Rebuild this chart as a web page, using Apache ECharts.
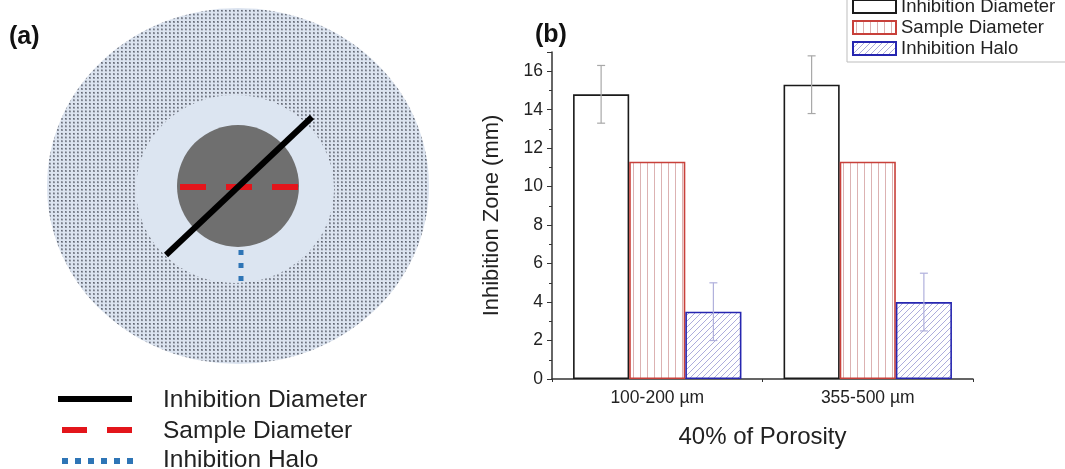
<!DOCTYPE html>
<html><head><meta charset="utf-8">
<script src="https://cdn.jsdelivr.net/npm/echarts@6/dist/echarts.min.js"></script>
<style>html,body{margin:0;padding:0;background:#fff}#c{width:1065px;height:469px}</style>
</head><body><div id="c"></div>
<script>
// ---- data ----
const categories = ['100-200 µm', '355-500 µm'];
const seriesNames = ['Inhibition Diameter', 'Sample Diameter', 'Inhibition Halo'];
const inhibitionDiameter = [14.8, 15.3];
const inhibitionDiameterErr = [1.5, 1.5];
const sampleDiameter = [11.3, 11.3];
const sampleDiameterErr = [0, 0];
const inhibitionHalo = [3.5, 4.0];
const inhibitionHaloErr = [1.5, 1.5];
const yMin = 0, yMax = 17, yInterval = 2;
const xAxisTitle = '40% of Porosity';
const yAxisTitle = 'Inhibition Zone (mm)';
const schematicLabels = ['Inhibition Diameter', 'Sample Diameter', 'Inhibition Halo'];

// ---- patterns ----
function mkCanvas(w, h, draw) { const c = document.createElement('canvas'); c.width = w; c.height = h; draw(c.getContext('2d')); return c; }
const vertPattern = mkCanvas(7, 8, g => { g.fillStyle = '#fff'; g.fillRect(0,0,7,8); g.fillStyle = '#dcb2b2'; g.fillRect(3,0,1,8); });
const diagPattern = mkCanvas(6, 6, g => {
  g.fillStyle = '#fff'; g.fillRect(0,0,6,6);
  g.strokeStyle = '#a4a4d8'; g.lineWidth = 0.9;
  g.beginPath(); g.moveTo(-1,7); g.lineTo(7,-1); g.moveTo(-1,1); g.lineTo(1,-1); g.moveTo(5,7); g.lineTo(7,5); g.stroke();
});
const dotPattern = mkCanvas(4, 4, g => { g.fillStyle = '#dce4f0'; g.fillRect(0,0,4,4); g.fillStyle = '#8a909c'; g.fillRect(1,1,2,2); g.fillStyle = '#5c626e'; g.fillRect(1,1,1,1); });

const values = [inhibitionDiameter, sampleDiameter, inhibitionHalo];
const errs = [inhibitionDiameterErr, sampleDiameterErr, inhibitionHaloErr];
const fills = ['#ffffff', { image: vertPattern, repeat: 'repeat' }, { image: diagPattern, repeat: 'repeat' }];
const borders = ['#1a1a1a', '#c8403a', '#2626b0'];
const errColors = ['#a8a8a8', '#d8a0a0', '#b0b0dc'];

const errData = [];
values.forEach((arr, si) => arr.forEach((v, ci) => { if (errs[si][ci] > 0) errData.push([ci, v - errs[si][ci], v + errs[si][ci], si]); }));

const font = 'Arial, "Liberation Sans", sans-serif';

const barSeries = seriesNames.map((n, i) => ({
  name: n, type: 'bar', data: values[i], barGap: '0%', barCategoryGap: '20%',
  itemStyle: { color: fills[i], borderColor: borders[i], borderWidth: 1.6 },
  z: 2
}));

const errSeries = {
  type: 'custom', name: 'err', data: errData, z: 5,
  renderItem(params, api) {
    const ci = api.value(0), lo = api.value(1), hi = api.value(2), si = api.value(3);
    const band = api.size([1, 0])[0];
    const bw = band * 0.8 / 3;
    const top = api.coord([ci, hi]), bot = api.coord([ci, lo]);
    const x = top[0] + (si - 1) * bw;
    const st = { stroke: errColors[si], lineWidth: 1.2 };
    return { type: 'group', children: [
      { type: 'line', shape: { x1: x, y1: top[1], x2: x, y2: bot[1] }, style: st },
      { type: 'line', shape: { x1: x - 4, y1: top[1], x2: x + 4, y2: top[1] }, style: st },
      { type: 'line', shape: { x1: x - 4, y1: bot[1], x2: x + 4, y2: bot[1] }, style: st }
    ]};
  }
};

// ---- schematic (panel a) ----
const graphic = [
  { type: 'circle', shape: { cx: 238, cy: 186, r: 191 }, scaleY: 178/191, originX: 238, originY: 186,
    style: { fill: { image: dotPattern, repeat: 'repeat' } }, z: 0 },
  { type: 'circle', shape: { cx: 235, cy: 189, r: 99 }, scaleY: 0.95, originX: 235, originY: 189, style: { fill: '#dce5f1' }, z: 1 },
  { type: 'circle', shape: { cx: 238, cy: 186, r: 61 }, style: { fill: '#6f6f6f' }, z: 2 },
  { type: 'line', shape: { x1: 180, y1: 187, x2: 298, y2: 187 }, style: { stroke: '#e3151b', lineWidth: 6, lineDash: [26, 20] }, z: 3 },
  { type: 'line', shape: { x1: 166, y1: 255, x2: 312, y2: 117 }, style: { stroke: '#000', lineWidth: 6 }, z: 4 },
  { type: 'line', shape: { x1: 241, y1: 250, x2: 241, y2: 284 }, style: { stroke: '#2e75b6', lineWidth: 5, lineDash: [5, 8] }, z: 3 },
  { type: 'line', shape: { x1: 58, y1: 399, x2: 132, y2: 399 }, style: { stroke: '#000', lineWidth: 6 }, z: 3 },
  { type: 'line', shape: { x1: 62, y1: 430, x2: 132, y2: 430 }, style: { stroke: '#e3151b', lineWidth: 6, lineDash: [25, 20] }, z: 3 },
  { type: 'line', shape: { x1: 62, y1: 461, x2: 133, y2: 461 }, style: { stroke: '#2e75b6', lineWidth: 6, lineDash: [6, 7] }, z: 3 },
  { type: 'text', x: 163, y: 400, style: { text: schematicLabels[0], font: '24.5px ' + font, fill: '#222', verticalAlign: 'middle' }, z: 3 },
  { type: 'text', x: 163, y: 431, style: { text: schematicLabels[1], font: '24.5px ' + font, fill: '#222', verticalAlign: 'middle' }, z: 3 },
  { type: 'text', x: 163, y: 460, style: { text: schematicLabels[2], font: '24.5px ' + font, fill: '#222', verticalAlign: 'middle' }, z: 3 },
  { type: 'text', x: 9, y: 37, style: { text: '(a)', font: 'bold 25px ' + font, fill: '#111', verticalAlign: 'middle' }, z: 3 },
  { type: 'text', x: 535, y: 35, style: { text: '(b)', font: 'bold 25px ' + font, fill: '#111', verticalAlign: 'middle' }, z: 3 }
];

const chart = echarts.init(document.getElementById('c'), null, { renderer: 'canvas' });
chart.setOption({
  animation: false,
  backgroundColor: '#fff',
  textStyle: { fontFamily: font },
  graphic: graphic,
  grid: { left: 552, right: 92, top: 52, bottom: 90 },
  legend: {
    data: seriesNames, orient: 'vertical', left: 847, top: -8,
    itemWidth: 43, itemHeight: 13, itemGap: 2, icon: 'rect',
    padding: [5, 30, 4, 5], borderColor: '#bdbdbd', borderWidth: 1, backgroundColor: '#fff',
    textStyle: { fontSize: 18.5, lineHeight: 16, color: '#222', fontFamily: font }
  },
  xAxis: [{
    type: 'category', data: categories,
    axisLine: { lineStyle: { color: '#333', width: 1.5 } },
    axisTick: { alignWithLabel: true, length: 5, lineStyle: { color: '#333' } },
    axisLabel: { fontSize: 17.5, color: '#222', margin: 10 },
    name: xAxisTitle, nameLocation: 'middle', nameGap: 46,
    nameTextStyle: { fontSize: 24, color: '#222' }
  }, {
    type: 'value', min: 0, max: categories.length, interval: 1, position: 'bottom',
    axisLine: { show: false }, axisLabel: { show: false }, splitLine: { show: false },
    axisTick: { show: true, length: 3, lineStyle: { color: '#333' } }
  }],
  yAxis: {
    type: 'value', min: yMin, max: yMax, interval: yInterval,
    axisLine: { show: true, lineStyle: { color: '#333', width: 1.5 } },
    axisTick: { show: true, length: 5, lineStyle: { color: '#333' } },
    minorTick: { show: true, splitNumber: 2, length: 3, lineStyle: { color: '#333' } },
    axisLabel: { fontSize: 17.5, color: '#222', margin: 9, showMaxLabel: false },
    splitLine: { show: false },
    name: yAxisTitle, nameLocation: 'middle', nameGap: 49,
    nameTextStyle: { fontSize: 22, color: '#222' }
  },
  series: barSeries.concat([errSeries])
});
</script></body></html>
